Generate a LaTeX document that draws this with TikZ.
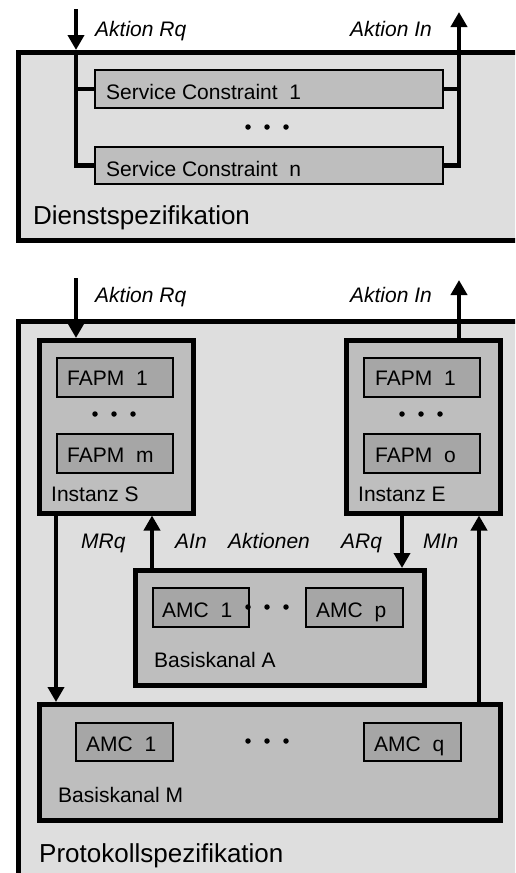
\documentclass[tikz,border=0pt]{standalone}
\usepackage{fontspec}
\setmainfont{Liberation Sans}
\usetikzlibrary{arrows.meta}
\definecolor{outerfill}{HTML}{DEDEDE}
\definecolor{midfill}{HTML}{BEBEBE}
\definecolor{innerfill}{HTML}{A6A6A6}
\tikzset{
  bigbox/.style={draw=black, line width=4.5pt, fill=outerfill},
  instbox/.style={draw=black, line width=4.5pt, fill=midfill},
  scbox/.style={draw=black, line width=2pt, fill=midfill},
  smallbox/.style={draw=black, line width=2pt, fill=innerfill},
  txt/.style={inner sep=0pt, anchor=base west, font=\fontsize{21}{25}\selectfont},
  itxt/.style={txt, font=\fontsize{21}{25}\selectfont\itshape},
  bigtxt/.style={inner sep=0pt, anchor=base west, font=\fontsize{26}{30}\selectfont},
  arr/.style={line width=4.5pt, -{Triangle[width=16pt,length=15pt]}},
  ln/.style={line width=4.5pt},
  dot/.style={circle, fill=black, inner sep=0pt, minimum size=5.5pt}
}
\newcommand{\boxat}[4]{}% unused
\begin{document}
\begin{tikzpicture}[x=1pt,y=-1pt]
\clip (0,0) rectangle (515,873);
\useasboundingbox (0,0) rectangle (515,873);
\fill[white] (0,0) rectangle (515,873);

% ---------- Dienstspezifikation ----------
\node[bigbox, anchor=north west, minimum width=524pt, minimum height=188pt, inner sep=0pt] (dienst) at (16,50) {};
\node[scbox, anchor=north west, minimum width=348pt, minimum height=38pt, inner sep=0pt] (sc1) at (94,69) {};
\node[scbox, anchor=north west, minimum width=348pt, minimum height=37pt, inner sep=0pt] (scn) at (94,146) {};
\node[txt] (sc1t) at (106,99) {Service Constraint\ \ 1};
\node[txt] (scnt) at (106,176) {Service Constraint\ \ n};
\node[dot] (d1a) at (248,127) {};
\node[dot] (d1b) at (267,127) {};
\node[dot] (d1c) at (286,127) {};
\node[bigtxt] (dienstt) at (33,224) {Dienstspezifikation};
\node[itxt] (rq1) at (95,36) {Aktion Rq};
\node[itxt, anchor=base east] (in1) at (432,36) {Aktion In};

\coordinate (inTop) at (76,9);
\coordinate (inX) at (76,0);
\coordinate (outTop) at (459,12);
\coordinate (outX) at (459,0);
\draw[arr] (inTop) -- (dienst.north -| inX);
\draw[ln] (dienst.north -| inX) -- (scn.west -| inX) -- (scn.west);
\draw[ln] (sc1.west -| inX) -- (sc1.west);
\draw[ln] (scn.east) -- (scn.east -| outX) -- (sc1.east -| outX);
\draw[ln] (sc1.east) -- (sc1.east -| outX);
\draw[arr] (sc1.east -| outX) -- (outTop);

% ---------- Protokollspezifikation ----------
\node[bigbox, anchor=north west, minimum width=524pt, minimum height=600pt, inner sep=0pt] (proto) at (16,319) {};

\node[instbox, anchor=north west, minimum width=154pt, minimum height=173pt, inner sep=0pt] (instS) at (37,338) {};
\node[instbox, anchor=north west, minimum width=154pt, minimum height=173pt, inner sep=0pt] (instE) at (344,338) {};

\node[smallbox, anchor=north west, minimum width=116pt, minimum height=39pt, inner sep=0pt] (fs1) at (56,357) {};
\node[smallbox, anchor=north west, minimum width=116pt, minimum height=39pt, inner sep=0pt] (fsm) at (56,433) {};
\node[smallbox, anchor=north west, minimum width=116pt, minimum height=39pt, inner sep=0pt] (fe1) at (363,357) {};
\node[smallbox, anchor=north west, minimum width=116pt, minimum height=39pt, inner sep=0pt] (feo) at (363,433) {};
\node[txt] (fs1t) at (67,385) {FAPM\ \ 1};
\node[txt] (fsmt) at (67,462) {FAPM\ \ m};
\node[txt] (fe1t) at (375,385) {FAPM\ \ 1};
\node[txt] (feot) at (375,462) {FAPM\ \ o};
\node[dot] (d2a) at (95,414) {};
\node[dot] (d2b) at (114,414) {};
\node[dot] (d2c) at (133,414) {};
\node[dot] (d3a) at (402,414) {};
\node[dot] (d3b) at (421,414) {};
\node[dot] (d3c) at (440,414) {};
\node[txt] (instSt) at (51,501) {Instanz S};
\node[txt] (instEt) at (358,501) {Instanz E};

\node[instbox, anchor=north west, minimum width=289pt, minimum height=115pt, inner sep=0pt] (bkA) at (133,568) {};
\node[smallbox, anchor=north west, minimum width=96pt, minimum height=39pt, inner sep=0pt] (amcA1) at (152,587) {};
\node[smallbox, anchor=north west, minimum width=97pt, minimum height=39pt, inner sep=0pt] (amcAp) at (305,587) {};
\node[txt] (amcA1t) at (162,617) {AMC\ \ 1};
\node[txt] (amcApt) at (316,617) {AMC\ \ p};
\node[dot] (d4a) at (248,607) {};
\node[dot] (d4b) at (267,607) {};
\node[dot] (d4c) at (286,607) {};
\node[txt] (bkAt) at (154,667) {Basiskanal A};

\node[instbox, anchor=north west, minimum width=461pt, minimum height=116pt, inner sep=0pt] (bkM) at (37,702) {};
\node[smallbox, anchor=north west, minimum width=97pt, minimum height=38pt, inner sep=0pt] (amcM1) at (75,722) {};
\node[smallbox, anchor=north west, minimum width=97pt, minimum height=38pt, inner sep=0pt] (amcMq) at (363,722) {};
\node[txt] (amcM1t) at (86,751) {AMC\ \ 1};
\node[txt] (amcMqt) at (374,751) {AMC\ \ q};
\node[dot] (d5a) at (248,741) {};
\node[dot] (d5b) at (267,741) {};
\node[dot] (d5c) at (286,741) {};
\node[txt] (bkMt) at (58,802) {Basiskanal M};

\node[bigtxt] (protot) at (39,862) {Protokollspezifikation};

\node[itxt] (rq2) at (95,302) {Aktion Rq};
\node[itxt, anchor=base east] (in2) at (432,302) {Aktion In};
\coordinate (inTop2) at (76,278);
\coordinate (outTop2) at (459,280);
\draw[arr] (inTop2) -- (instS.north -| inTop2);
\draw[arr] (instE.north -| outTop2) -- (outTop2);

\coordinate (xMRq) at (56,0);
\coordinate (xAIn) at (152,0);
\coordinate (xARq) at (402,0);
\coordinate (xMIn) at (479,0);
\draw[arr] (instS.south -| xMRq) -- (bkM.north -| xMRq);
\draw[arr] (bkA.north -| xAIn) -- (instS.south -| xAIn);
\draw[arr] (instE.south -| xARq) -- (bkA.north -| xARq);
\draw[arr] (bkM.north -| xMIn) -- (instE.south -| xMIn);

\node[itxt] (lMRq) at (81,548) {MRq};
\node[itxt] (lAIn) at (175,548) {AIn};
\node[itxt] (lAkt) at (228,548) {Aktionen};
\node[itxt] (lARq) at (341,548) {ARq};
\node[itxt] (lMIn) at (423,548) {MIn};
\end{tikzpicture}
\end{document}
